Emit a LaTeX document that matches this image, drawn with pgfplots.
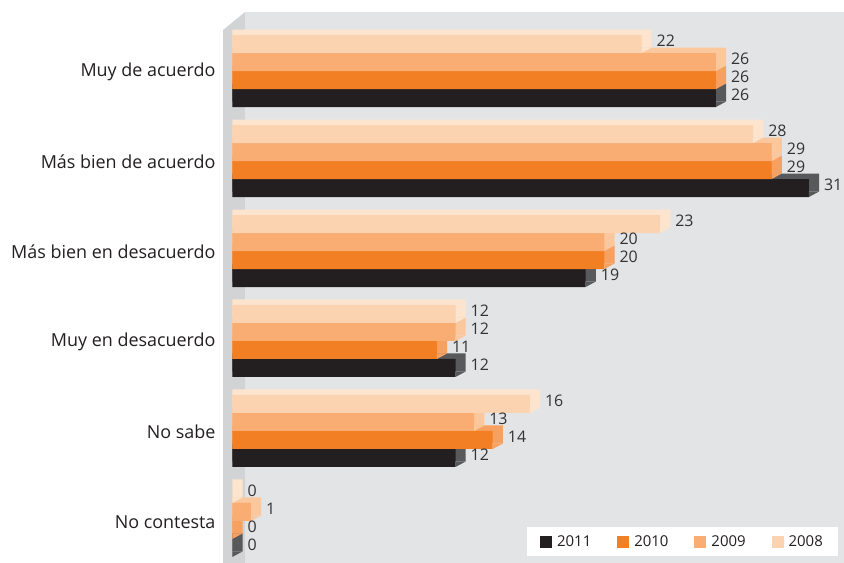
\documentclass[border=0pt]{standalone}
\usepackage{fontspec}
\setmainfont{Open Sans}
\usepackage{pgfplots}
\usepackage{pgfplotstable}
\pgfplotsset{compat=1.18}
\definecolor{c11}{HTML}{231F20}
\definecolor{c10}{HTML}{F37F25}
\definecolor{c09}{HTML}{F9AD73}
\definecolor{c08}{HTML}{FBD3B0}
\definecolor{d11}{HTML}{58595B}
\definecolor{d10}{HTML}{F8A060}
\definecolor{d09}{HTML}{FBC79C}
\definecolor{d08}{HTML}{FDE4CE}
\definecolor{panel}{HTML}{E3E4E6}
\definecolor{wall}{HTML}{D1D3D5}
\definecolor{txt}{HTML}{231F20}
\definecolor{vtxt}{HTML}{333333}
\newcommand\deftri[2]{\pgfdeclareplotmark{#1}{%
  \pgfpathmoveto{\pgfpoint{0bp}{#2bp-9bp}}%
  \pgfpathlineto{\pgfpoint{10.2bp}{#2bp-3.5bp}}%
  \pgfpathlineto{\pgfpoint{0bp}{#2bp-3.5bp}}%
  \pgfpathclose\pgfusepathqfill}}
\deftri{tri11}{-27}
\deftri{tri10}{-9}
\deftri{tri09}{9}
\deftri{tri08}{27}
\pgfplotstableread{
y v2011 v2010 v2009 v2008
5 26 26 26 22
4 31 29 29 28
3 19 20 20 23
2 12 11 12 12
1 12 14 13 16
0 0 0 1 0
}\data
\begin{document}
\begin{tikzpicture}
\begin{axis}[
  at={(223bp,0bp)}, anchor=south west,
  scale only axis, width=621bp, height=551bp,
  xmin=-0.5, xmax=32.887, ymin=-0.467, ymax=5.656,
  axis line style={draw=none},
  major tick length=0pt,
  xtick=\empty,
  ytick={0,1,2,3,4,5},
  yticklabels={No contesta, No sabe, Muy en desacuerdo, Más bien en desacuerdo, Más bien de acuerdo, Muy de acuerdo},
  yticklabel style={font=\fontsize{18}{21}\selectfont, text=txt, xshift=-4bp, yshift=-1bp},
  bar width=18bp,
  /pgf/number format/assume math mode=true,
  legend columns=4,
  legend style={at={(1,0)}, anchor=south east, xshift=-6bp, yshift=7bp,
    draw=none, fill=white, font=\fontsize{15}{17}\selectfont, text=txt,
    inner xsep=13bp, inner ysep=6bp,
    /tikz/every odd column/.append style={column sep=3bp},
    /tikz/every even column/.append style={column sep=24bp}},
  legend image code/.code={\fill[#1,draw=none] (0bp,-6bp) rectangle (12bp,6bp);},
  clip=false,
]
% background: wall and panel
\fill[wall] (axis cs:-0.5,5.456) -- (axis cs:0.688,5.656) -- (axis cs:0.688,-0.467) -- (axis cs:-0.5,-0.467) -- cycle;
\fill[panel] (axis cs:0.688,-0.467) rectangle (axis cs:32.887,5.656);
% depth faces (top + side)
\addplot[forget plot, xbar, fill=d11, draw=none, bar shift=-21.5bp] table[y=y, x expr=\thisrow{v2011}+0.55] {\data};
\addplot[forget plot, xbar, fill=d10, draw=none, bar shift=-3.5bp] table[y=y, x expr=\thisrow{v2010}+0.55] {\data};
\addplot[forget plot, xbar, fill=d09, draw=none, bar shift=14.5bp] table[y=y, x expr=\thisrow{v2009}+0.55] {\data};
\addplot[forget plot, xbar, fill=d08, draw=none, bar shift=32.5bp] table[y=y, x expr=\thisrow{v2008}+0.55] {\data};
\addplot[forget plot, only marks, mark=tri11, color=d11] table[y=y, x=v2011] {\data};
\addplot[forget plot, only marks, mark=tri10, color=d10] table[y=y, x=v2010] {\data};
\addplot[forget plot, only marks, mark=tri09, color=d09] table[y=y, x=v2009] {\data};
\addplot[forget plot, only marks, mark=tri08, color=d08] table[y=y, x=v2008] {\data};
% front faces
\pgfplotsset{every node near coord/.append style={anchor=west, inner sep=1bp, xshift=14bp, yshift=3bp, font=\fontsize{16}{19}\selectfont, text=vtxt}}
\addplot[xbar, fill=c11, draw=none, bar shift=-27bp, point meta=x, nodes near coords, nodes near coords style={yshift=-27bp}] table[y=y, x=v2011] {\data};
\addplot[xbar, fill=c10, draw=none, bar shift=-9bp, point meta=x, nodes near coords, nodes near coords style={yshift=-9bp}] table[y=y, x=v2010] {\data};
\addplot[xbar, fill=c09, draw=none, bar shift=9bp, point meta=x, nodes near coords, nodes near coords style={yshift=9bp}] table[y=y, x=v2009] {\data};
\addplot[xbar, fill=c08, draw=none, bar shift=27bp, point meta=x, nodes near coords, nodes near coords style={yshift=27bp}] table[y=y, x=v2008] {\data};
\legend{2011,2010,2009,2008}
\end{axis}
\pgfresetboundingbox
\path (0,0) rectangle (844bp,563bp);
\end{tikzpicture}
\end{document}
